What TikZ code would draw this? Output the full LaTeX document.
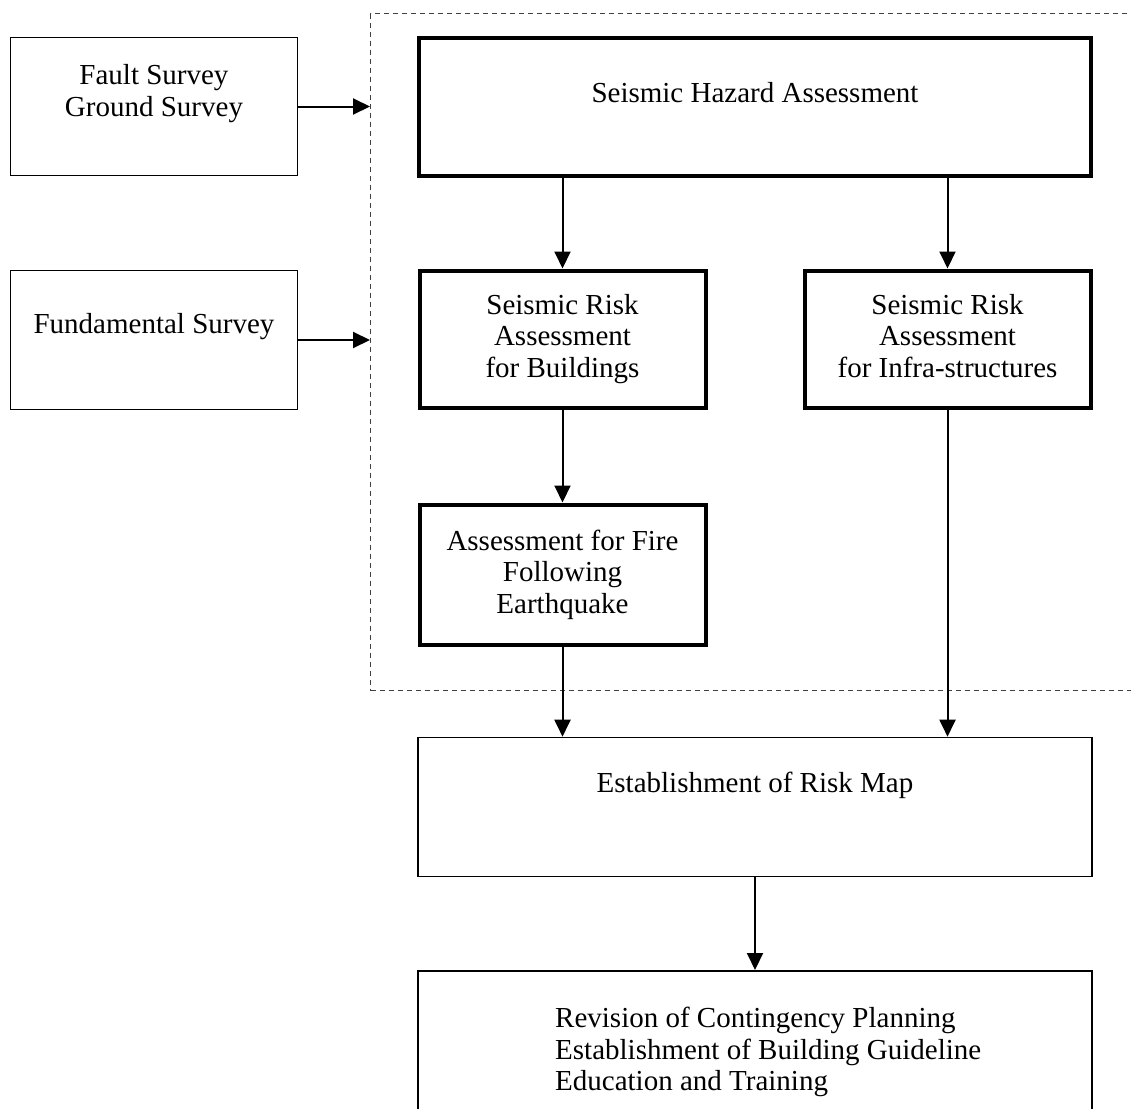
\documentclass[tikz,border=0pt]{standalone}
\usepackage{fontspec}
\setmainfont{Liberation Serif}
\usetikzlibrary{arrows.meta}
\begin{document}
\begin{tikzpicture}[x=1pt,y=-1pt,
  txt/.style={font=\fontsize{29}{31.5}\selectfont, align=center, inner sep=0pt},
  thinbox/.style={draw, line width=1.6pt, inner sep=0pt},
  thickbox/.style={draw, line width=4pt, inner sep=0pt},
  arr/.style={line width=2pt, -{Triangle[width=16pt,length=17pt]}},
  region/.style={draw=black!75, line width=1.2pt, dash pattern=on 5pt off 4pt, inner sep=0pt}]
\useasboundingbox (0,0) rectangle (1131,1108);
\clip (0,0) rectangle (1131,1108);
% dashed region
\node[region, anchor=north west, minimum width=800pt, minimum height=677pt] (reg) at (370,13) {};
% left inputs
\node[thinbox, minimum width=287pt, minimum height=138pt,
  label={[txt,yshift=13pt]center:Fault Survey\\Ground Survey}] (fault) at (154,106.5) {};
\node[thinbox, minimum width=287pt, minimum height=139pt,
  label={[txt,yshift=13pt]center:Fundamental Survey}] (fund) at (154,340) {};
% hazard
\node[thickbox, minimum width=672pt, minimum height=137pt,
  label={[txt,yshift=14pt]center:Seismic Hazard Assessment}] (haz) at (755,107) {};
% risk assessments
\node[thickbox, minimum width=286pt, minimum height=137pt,
  label={[txt]center:Seismic Risk\\Assessment\\for Buildings}] (bld) at (562.5,339) {};
\node[thickbox, minimum width=286pt, minimum height=137pt,
  label={[txt]center:Seismic Risk\\Assessment\\for Infra-structures\vphantom{g}}] (inf) at (947.5,339) {};
\node[thickbox, minimum width=286pt, minimum height=140pt,
  label={[txt]center:Assessment for Fire\\Following\\Earthquake}] (fire) at (562.5,574.5) {};
% risk map
\node[thinbox, minimum width=674pt, minimum height=139pt,
  label={[txt,yshift=22pt]center:Establishment of Risk Map}] (map) at (755,807) {};
% bottom box
\node[thinbox, anchor=north, minimum width=674pt, minimum height=200pt] (rev) at (755,970) {};
\node[txt, align=left, anchor=north west] (revt) at (555,1007)
  {Revision of Contingency Planning\\Establishment of Building Guideline\\Education and Training};
% connectors
\draw[arr] (fault.east) -- (fault.east -| reg.west);
\draw[arr] (fund.east) -- (fund.east -| reg.west);
\draw[arr] (haz.south -| bld.north) -- (bld.north);
\draw[arr] (haz.south -| inf.north) -- (inf.north);
\draw[arr] (bld.south) -- (fire.north);
\draw[arr] (fire.south) -- (fire.south |- map.north);
\draw[arr] (inf.south) -- (inf.south |- map.north);
\draw[arr] (map.south) -- (rev.north);
\end{tikzpicture}
\end{document}
